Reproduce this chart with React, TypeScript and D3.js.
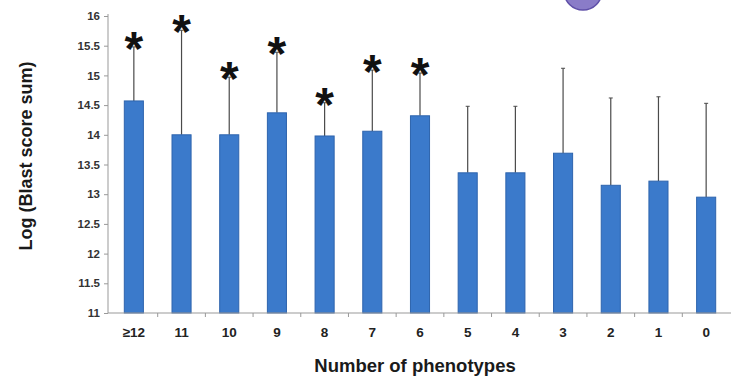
import React, { useEffect, useRef } from "react";
import * as d3 from "d3";

const categories = ["≥12", "11", "10", "9", "8", "7", "6", "5", "4", "3", "2", "1", "0"];
const means = [14.57, 14.0, 14.0, 14.37, 13.98, 14.06, 14.32, 13.36, 13.36, 13.69, 13.15, 13.22, 12.95];
const errors = [0.91, 1.76, 0.97, 1.02, 0.56, 1.03, 0.72, 1.12, 1.12, 1.43, 1.47, 1.42, 1.58];
const significant = [true, true, true, true, true, true, true, false, false, false, false, false, false];
const yTicks = [11, 11.5, 12, 12.5, 13, 13.5, 14, 14.5, 15, 15.5, 16];

const W = 731;
const H = 379;

export default function App() {
  const ref = useRef<SVGSVGElement>(null);

  useEffect(() => {
    const svg = d3.select(ref.current);
    svg.selectAll("*").remove();

    const x = d3.scaleBand<string>()
      .domain(categories)
      .range([110, 730])
      .paddingInner(0.6)
      .paddingOuter(0.3);
    const y = d3.scaleLinear().domain([11, 16]).range([313, 16]);

    const data = categories.map((c, i) => ({ c, m: means[i], e: errors[i], s: significant[i] }));

    // purple badge cut off at the top edge
    svg.append("circle")
      .attr("cx", 583).attr("cy", -9).attr("r", 19)
      .style("fill", "#8a7cc8").style("stroke", "#5f4fa8").style("stroke-width", 1.5);

    // error bars first, bars drawn over them
    const err = svg.append("g").attr("class", "errors");
    err.selectAll("line.v").data(data).enter().append("line")
      .attr("class", "v")
      .attr("x1", d => x(d.c)! + x.bandwidth() / 2)
      .attr("x2", d => x(d.c)! + x.bandwidth() / 2)
      .attr("y1", d => y(d.m))
      .attr("y2", d => y(d.m + d.e))
      .style("stroke", "#4a4a4a").style("stroke-width", 1.2);
    err.selectAll("line.cap").data(data).enter().append("line")
      .attr("class", "cap")
      .attr("x1", d => x(d.c)! + x.bandwidth() / 2 - 2)
      .attr("x2", d => x(d.c)! + x.bandwidth() / 2 + 2)
      .attr("y1", d => y(d.m + d.e))
      .attr("y2", d => y(d.m + d.e))
      .style("stroke", "#4a4a4a").style("stroke-width", 1);

    svg.append("g").selectAll("rect").data(data).enter().append("rect")
      .attr("x", d => x(d.c)!)
      .attr("y", d => y(d.m))
      .attr("width", x.bandwidth())
      .attr("height", d => y(11) - y(d.m))
      .style("fill", "#3b7acb")
      .style("stroke", "#2e64ad")
      .style("stroke-width", 1);

    svg.append("g").selectAll("text").data(data.filter(d => d.s)).enter().append("text")
      .attr("x", d => x(d.c)! + x.bandwidth() / 2)
      .attr("y", d => y(d.m + d.e) + 18)
      .attr("text-anchor", "middle")
      .style("font-family", "Liberation Sans, Arial, sans-serif")
      .style("font-weight", "bold")
      .style("font-size", "48px")
      .style("fill", "#111")
      .text("*");

    // y axis
    const yAxis = svg.append("g")
      .attr("transform", "translate(108,0)")
      .call(d3.axisLeft(y).tickValues(yTicks).tickSize(4).tickPadding(4).tickFormat(d => String(d)));
    yAxis.select(".domain").style("stroke", "#999").attr("d", `M0,${y(11)}V${y(16) - 2}`);
    yAxis.selectAll(".tick line").style("stroke", "#999");
    yAxis.selectAll(".tick text")
      .style("font-family", "Liberation Sans, Arial, sans-serif")
      .style("font-size", "11.5px")
      .style("font-weight", "bold")
      .style("fill", "#333");

    // x axis
    const xAxis = svg.append("g").attr("transform", "translate(0,313)");
    xAxis.append("line")
      .attr("x1", 108).attr("x2", 731).attr("y1", 0).attr("y2", 0)
      .style("stroke", "#999");
    xAxis.selectAll("line.tick").data(categories.slice(1)).enter().append("line")
      .attr("class", "tick")
      .attr("x1", d => x(d)! - x.step() * 0.3)
      .attr("x2", d => x(d)! - x.step() * 0.3)
      .attr("y1", 0).attr("y2", 4)
      .style("stroke", "#999");
    xAxis.selectAll("text").data(categories).enter().append("text")
      .attr("x", d => x(d)! + x.bandwidth() / 2)
      .attr("y", 24)
      .attr("text-anchor", "middle")
      .style("font-family", "Liberation Sans, Arial, sans-serif")
      .style("font-size", "13.5px")
      .style("font-weight", "bold")
      .style("fill", "#222")
      .text(d => d);

    svg.append("text")
      .attr("x", 415).attr("y", 372)
      .attr("text-anchor", "middle")
      .style("font-family", "Liberation Sans, Arial, sans-serif")
      .style("font-size", "18.5px")
      .style("font-weight", "bold")
      .style("fill", "#1a1a1a")
      .text("Number of phenotypes");

    svg.append("text")
      .attr("transform", "translate(32,156) rotate(-90)")
      .attr("text-anchor", "middle")
      .style("font-family", "Liberation Sans, Arial, sans-serif")
      .style("font-size", "18px")
      .style("font-weight", "bold")
      .style("fill", "#1a1a1a")
      .text("Log (Blast score sum)");
  }, []);

  return (
    <svg ref={ref} width={W} height={H}
      style={{ position: "absolute", left: 0, top: 0, background: "#fff" }} />
  );
}
